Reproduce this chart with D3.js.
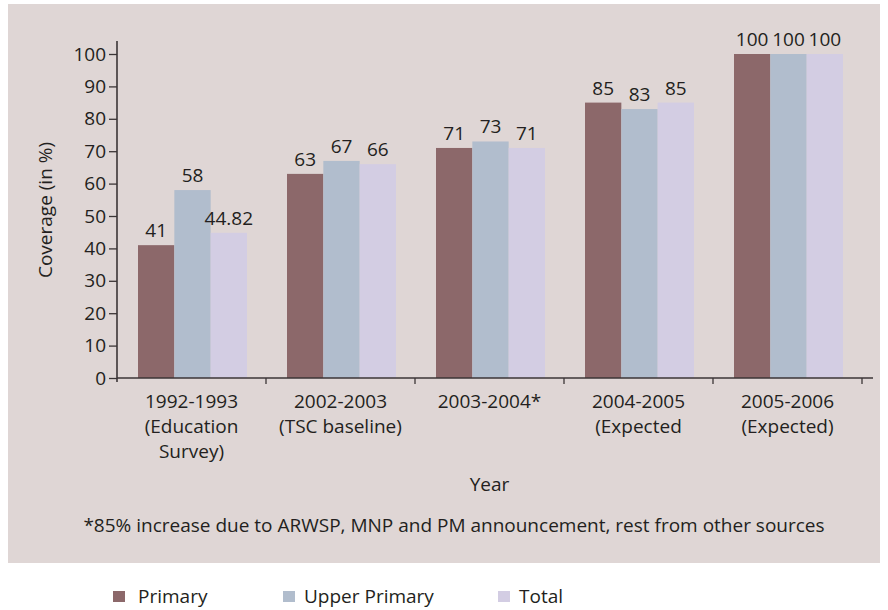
<!DOCTYPE html>
<html>
<head>
<meta charset="utf-8">
<script src="https://cdn.jsdelivr.net/npm/d3@7/dist/d3.min.js"></script>
<style>
  html, body { margin: 0; padding: 0; background: #ffffff; }
  svg { display: block; font-family: "Open Sans", "Noto Sans", sans-serif; }
</style>
</head>
<body>
<svg id="chart" width="888" height="610"></svg>
<script>
// Categories (multi-line year labels)
const years = [
  ["1992-1993", "(Education", "Survey)"],
  ["2002-2003", "(TSC baseline)"],
  ["2003-2004*"],
  ["2004-2005", "(Expected"],
  ["2005-2006", "(Expected)"]
];
const seriesNames = ["Primary", "Upper Primary", "Total"];
const primary      = [41, 63, 71, 85, 100];
const upperPrimary = [58, 67, 73, 83, 100];
const total        = [44.82, 66, 71, 85, 100];
const valueLabels = [
  ["41", "58", "44.82"],
  ["63", "67", "66"],
  ["71", "73", "71"],
  ["85", "83", "85"],
  ["100", "100", "100"]
];
const yTicks = [0, 10, 20, 30, 40, 50, 60, 70, 80, 90, 100];
const colors = ["#8c686a", "#b1bdcd", "#d3cde3"];
const footnote = "*85% increase due to ARWSP, MNP and PM announcement, rest from other sources";

const seriesValues = [primary, upperPrimary, total];
const textColor = "#231f20";
const axisColor = "#3b3536";
const fs = 19;

const svg = d3.select("#chart");

// panel background
svg.append("rect")
  .attr("x", 8).attr("y", 4).attr("width", 872).attr("height", 559)
  .attr("fill", "#dfd6d5");

const plotLeft = 117, plotBottom = 378, plotTop = 54, bandEnd = 862, axisEnd = 873;

const keys = years.map((d, i) => i);
const x0 = d3.scaleBand().domain(keys).range([plotLeft, bandEnd]).padding(0);
const x1 = d3.scaleBand().domain(seriesNames).range([21, 130]).padding(0);
const y = d3.scaleLinear().domain([0, 100]).range([plotBottom, plotTop]);

// bars
const groups = svg.append("g").selectAll("g")
  .data(keys).join("g")
  .attr("transform", d => `translate(${x0(d)},0)`);

groups.selectAll("rect")
  .data(i => seriesNames.map((s, k) => ({ s, k, v: seriesValues[k][i] })))
  .join("rect")
  .attr("x", d => x1(d.s))
  .attr("y", d => y(d.v))
  .attr("width", x1.bandwidth())
  .attr("height", d => y(0) - y(d.v))
  .attr("fill", d => colors[d.k]);

groups.selectAll("text.val")
  .data(i => seriesNames.map((s, k) => ({ s, k, v: seriesValues[k][i], t: valueLabels[i][k] })))
  .join("text")
  .attr("class", "val")
  .attr("x", d => x1(d.s) + x1.bandwidth() / 2)
  .attr("y", d => y(d.v) - 8)
  .attr("text-anchor", "middle")
  .attr("font-size", fs)
  .attr("fill", textColor)
  .text(d => d.t);

// y axis
const yAxis = d3.axisLeft(y).tickValues(yTicks).tickSize(8).tickPadding(3);
const gy = svg.append("g").attr("transform", `translate(${plotLeft},0)`).call(yAxis);
gy.select(".domain").remove();
gy.selectAll(".tick line").attr("stroke", axisColor).attr("stroke-width", 1.3);
gy.selectAll(".tick text").attr("font-size", fs).attr("fill", textColor)
  .attr("font-family", "\"Open Sans\", sans-serif");
svg.append("line")
  .attr("x1", plotLeft).attr("x2", plotLeft).attr("y1", 41).attr("y2", plotBottom + 4)
  .attr("stroke", axisColor).attr("stroke-width", 1.6);

// x axis
svg.append("line")
  .attr("x1", plotLeft).attr("x2", axisEnd).attr("y1", plotBottom).attr("y2", plotBottom)
  .attr("stroke", axisColor).attr("stroke-width", 1.6);
const boundaries = keys.map(k => x0(k)).concat([x0(keys[keys.length - 1]) + x0.bandwidth()]);
svg.append("g").selectAll("line")
  .data(boundaries.slice(1)).join("line")
  .attr("x1", d => d).attr("x2", d => d)
  .attr("y1", plotBottom).attr("y2", plotBottom + 6)
  .attr("stroke", axisColor).attr("stroke-width", 1.3);

const xl = svg.append("g").selectAll("text")
  .data(keys).join("text")
  .attr("x", k => x0(k) + x0.bandwidth() / 2)
  .attr("y", 408)
  .attr("text-anchor", "middle")
  .attr("font-size", fs)
  .attr("fill", textColor);
xl.selectAll("tspan")
  .data(k => years[k]).join("tspan")
  .attr("x", function() { return d3.select(this.parentNode).attr("x"); })
  .attr("dy", (d, i) => i === 0 ? 0 : 25)
  .text(d => d);

// axis titles
svg.append("text")
  .attr("x", (plotLeft + bandEnd) / 2).attr("y", 491)
  .attr("text-anchor", "middle").attr("font-size", fs).attr("fill", textColor)
  .text("Year");
svg.append("text")
  .attr("transform", "translate(52,210) rotate(-90)")
  .attr("text-anchor", "middle").attr("font-size", fs).attr("fill", textColor)
  .text("Coverage (in %)");

// footnote
svg.append("text")
  .attr("x", 454).attr("y", 532)
  .attr("text-anchor", "middle").attr("font-size", fs).attr("fill", textColor)
  .text(footnote);

// legend
const legendX = [113, 283, 498];
const legendTextX = [138, 304, 519];
const lg = svg.append("g").selectAll("g")
  .data(seriesNames).join("g");
lg.append("rect")
  .attr("x", (d, i) => legendX[i]).attr("y", 591)
  .attr("width", 12).attr("height", 11).attr("fill", (d, i) => colors[i]);
lg.append("text")
  .attr("x", (d, i) => legendTextX[i]).attr("y", 603)
  .attr("font-size", fs).attr("fill", textColor).text(d => d);
</script>
</body>
</html>
